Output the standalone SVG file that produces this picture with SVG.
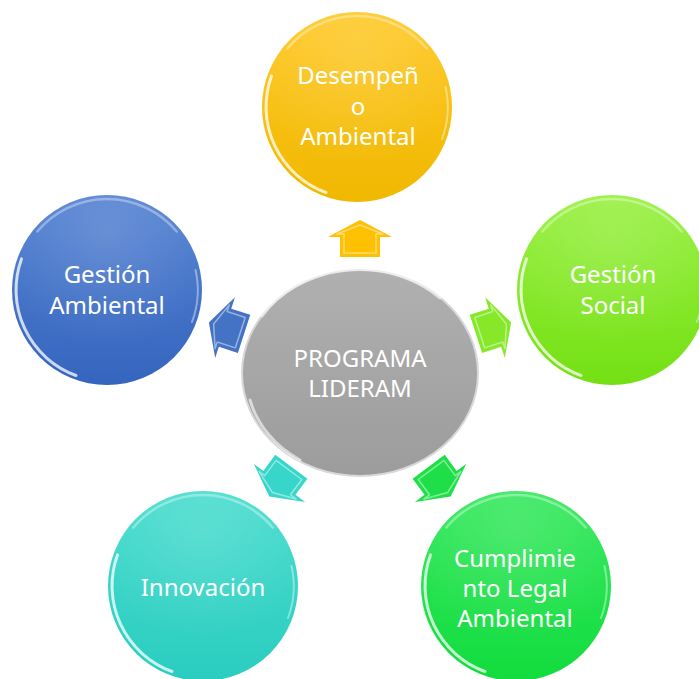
<svg xmlns="http://www.w3.org/2000/svg" xmlns:xlink="http://www.w3.org/1999/xlink" width="699" height="679" viewBox="0 0 699 679">
<style>
.lbl{font-family:"Noto Sans","Liberation Sans",sans-serif;font-size:24px;fill:#ffffff;text-anchor:middle}
.rimHi{fill:none;stroke:#ffffff;stroke-linecap:round}
.bevel{fill:none;stroke:#ffffff;stroke-opacity:0.45;stroke-width:1.5;stroke-linejoin:round}
</style>
<defs>
<linearGradient id="gYellow" x1="0" y1="0" x2="0" y2="1"><stop offset="0" stop-color="#FFC928"/><stop offset="1" stop-color="#F0B800"/></linearGradient>
<linearGradient id="gBlue" x1="0" y1="0" x2="0" y2="1"><stop offset="0" stop-color="#5482D2"/><stop offset="1" stop-color="#3565BE"/></linearGradient>
<linearGradient id="gLime" x1="0" y1="0" x2="0" y2="1"><stop offset="0" stop-color="#98F040"/><stop offset="1" stop-color="#74E014"/></linearGradient>
<linearGradient id="gTeal" x1="0" y1="0" x2="0" y2="1"><stop offset="0" stop-color="#48DCCE"/><stop offset="1" stop-color="#2ACDC0"/></linearGradient>
<linearGradient id="gGreen" x1="0" y1="0" x2="0" y2="1"><stop offset="0" stop-color="#36E85E"/><stop offset="1" stop-color="#12DC3E"/></linearGradient>
<linearGradient id="gGray" x1="0" y1="0" x2="0" y2="1"><stop offset="0" stop-color="#B0B0B0"/><stop offset="1" stop-color="#9C9C9C"/></linearGradient>
<radialGradient id="gTop" cx="0.5" cy="0.2" r="0.6"><stop offset="0" stop-color="#ffffff" stop-opacity="0.14"/><stop offset="1" stop-color="#ffffff" stop-opacity="0"/></radialGradient>
<g id="gloss">
<circle r="95" fill="url(#gTop)"/>
<path class="rimHi" d="M -31 85.5 A 91 91 0 0 1 -85.5 -31.1" stroke-width="3" stroke-opacity="0.75"/>
<path class="rimHi" d="M -69.7 -58.5 A 91 91 0 0 1 69.7 -58.5" stroke-width="2.5" stroke-opacity="0.35"/>
<path class="rimHi" d="M 88.5 -20 A 91 91 0 0 1 85 32" stroke-width="2" stroke-opacity="0.4"/>
</g>
<g id="arrowShape">
<polygon points="0,-18 32,-1 20,-1 20,19 -20,19 -20,-1 -32,-1"/>
<polygon class="bevel" points="0,-13 23,-4 16,-4 16,15 -16,15 -16,-4 -23,-4"/>
</g>
</defs>

<g id="connectors">
<use xlink:href="#arrowShape" href="#arrowShape" transform="translate(360,238)" fill="#FFC000"/>
<use xlink:href="#arrowShape" href="#arrowShape" transform="translate(226,328) rotate(-72)" fill="#4472C4"/>
<use xlink:href="#arrowShape" href="#arrowShape" transform="translate(494,328) rotate(72)" fill="#86E828"/>
<use xlink:href="#arrowShape" href="#arrowShape" transform="translate(280,482) rotate(-143.4)" fill="#38D6CA"/>
<use xlink:href="#arrowShape" href="#arrowShape" transform="translate(440,482) rotate(143.4)" fill="#1FDF48"/>
</g>

<g id="node-center">
<ellipse cx="360" cy="373" rx="118" ry="103" fill="url(#gGray)" stroke="#D8D8D8" stroke-width="2"/>
<path d="M 262 316 A 115 100 0 0 1 440 298" fill="none" stroke="#ffffff" stroke-opacity="0.5" stroke-width="3" stroke-linecap="round"/>
<path d="M 250 400 A 115 100 0 0 0 300 460" fill="none" stroke="#ffffff" stroke-opacity="0.6" stroke-width="3" stroke-linecap="round"/>
<text class="lbl" x="360" y="367">PROGRAMA</text>
<text class="lbl" x="360" y="397">LIDERAM</text>
</g>

<g id="node-desempeno">
<circle cx="357" cy="107" r="95" fill="url(#gYellow)"/>
<use xlink:href="#gloss" href="#gloss" transform="translate(357,107)"/>
<text class="lbl" x="358" y="84">Desempeñ</text>
<text class="lbl" x="358" y="115">o</text>
<text class="lbl" x="358" y="145">Ambiental</text>
</g>

<g id="node-gestion-ambiental">
<circle cx="107" cy="290" r="95" fill="url(#gBlue)"/>
<use xlink:href="#gloss" href="#gloss" transform="translate(107,290)"/>
<text class="lbl" x="107" y="283">Gestión</text>
<text class="lbl" x="107" y="314">Ambiental</text>
</g>

<g id="node-gestion-social">
<circle cx="612" cy="290" r="95" fill="url(#gLime)"/>
<use xlink:href="#gloss" href="#gloss" transform="translate(612,290)"/>
<text class="lbl" x="613" y="283">Gestión</text>
<text class="lbl" x="613" y="314">Social</text>
</g>

<g id="node-innovacion">
<circle cx="203" cy="586" r="95" fill="url(#gTeal)"/>
<use xlink:href="#gloss" href="#gloss" transform="translate(203,586)"/>
<text class="lbl" x="203" y="596">Innovación</text>
</g>

<g id="node-cumplimiento">
<circle cx="516" cy="586" r="95" fill="url(#gGreen)"/>
<use xlink:href="#gloss" href="#gloss" transform="translate(516,586)"/>
<text class="lbl" x="515" y="567">Cumplimie</text>
<text class="lbl" x="515" y="597">nto Legal</text>
<text class="lbl" x="515" y="627">Ambiental</text>
</g>
</svg>
